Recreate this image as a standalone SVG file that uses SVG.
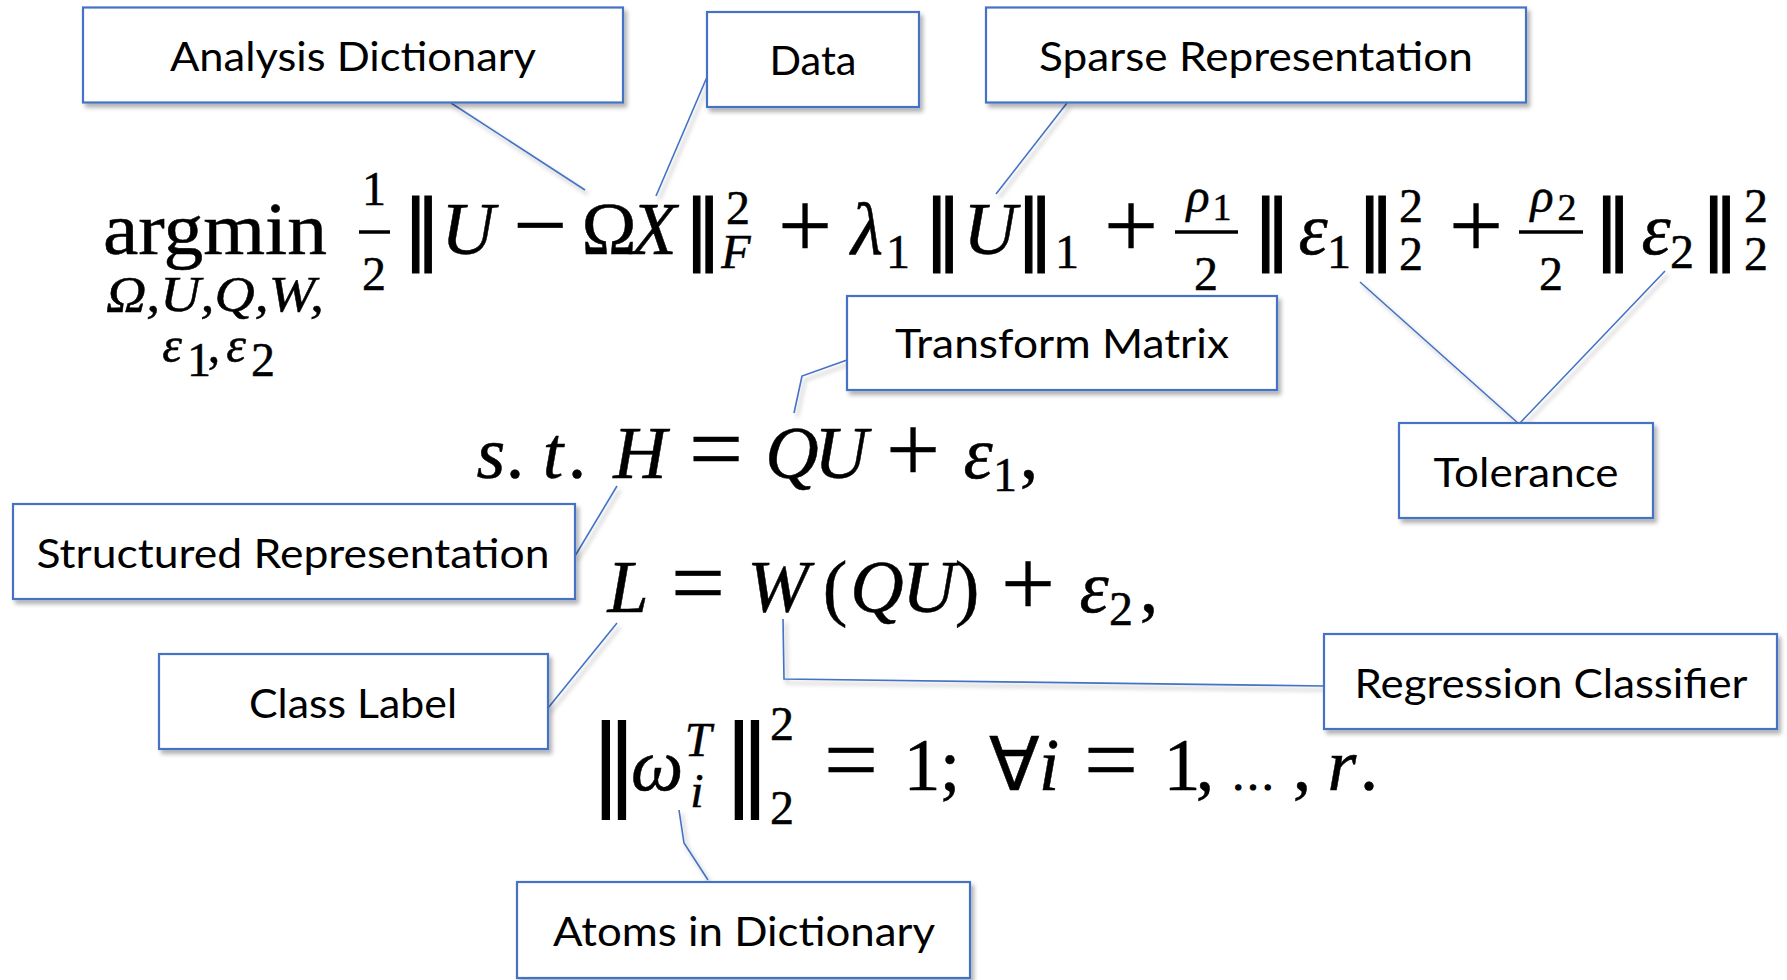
<svg xmlns="http://www.w3.org/2000/svg" width="1787" height="980" viewBox="0 0 1787 980">
<defs>
<filter id="sh" x="-10%" y="-10%" width="130%" height="140%">
<feDropShadow dx="3" dy="4" stdDeviation="2" flood-color="#000" flood-opacity="0.3"/>
</filter>
<style>
.box{fill:#fff;stroke:#4472C4;stroke-width:2.2}
.lbl{font-family:Lato,"Noto Sans",sans-serif;font-size:41px;fill:#000;text-anchor:middle}
.con{fill:none;stroke:#4472C4;stroke-width:1.6}
.m{font-family:"Liberation Serif",serif;font-size:74px;fill:#000;stroke:#000;stroke-width:0.5;text-anchor:middle}
.i{font-style:italic}
.s{font-size:48px}
.sm{font-size:50px}
.op{font-size:96px;stroke-width:0.4}
.n{font-family:"DejaVu Sans",sans-serif;font-size:77px;fill:#000;stroke:#000;stroke-width:1.2;text-anchor:middle}
.nb{font-size:100px;stroke-width:0}
.bar{stroke:#000;stroke-width:3.5}
</style>
</defs>
<rect width="1787" height="980" fill="#fff"/>

<g id="connectors" filter="url(#sh)">
<line class="con" x1="451" y1="103" x2="585" y2="190"/>
<line class="con" x1="707" y1="77" x2="656" y2="196"/>
<line class="con" x1="1067" y1="103" x2="996" y2="194"/>
<polyline class="con" points="1360,282 1519,424 1665,271"/>
<polyline class="con" points="847,360 802,376 794,413"/>
<line class="con" x1="575" y1="556" x2="617" y2="486"/>
<line class="con" x1="548" y1="708" x2="617" y2="623"/>
<polyline class="con" points="783,619 784,679 1324,686"/>
<polyline class="con" points="679,810 684,843 708,880"/>
</g>

<g id="n-analysis"><rect class="box" x="83" y="7.5" width="540" height="95" filter="url(#sh)"/><text class="lbl" x="353" y="70.5" textLength="366" lengthAdjust="spacingAndGlyphs">Analysis Dictionary</text></g>
<g id="n-data"><rect class="box" x="707" y="12" width="212" height="95" filter="url(#sh)"/><text class="lbl" x="813" y="75" textLength="87" lengthAdjust="spacingAndGlyphs">Data</text></g>
<g id="n-sparse"><rect class="box" x="986" y="7.5" width="540" height="95" filter="url(#sh)"/><text class="lbl" x="1256" y="70.5" textLength="434" lengthAdjust="spacingAndGlyphs">Sparse Representation</text></g>
<g id="n-transform"><rect class="box" x="847" y="296" width="430" height="94" filter="url(#sh)"/><text class="lbl" x="1062" y="358" textLength="334" lengthAdjust="spacingAndGlyphs">Transform Matrix</text></g>
<g id="n-tolerance"><rect class="box" x="1399" y="423" width="254" height="95" filter="url(#sh)"/><text class="lbl" x="1526" y="487" textLength="185" lengthAdjust="spacingAndGlyphs">Tolerance</text></g>
<g id="n-structured"><rect class="box" x="13" y="504" width="562" height="95" filter="url(#sh)"/><text class="lbl" x="293" y="567.5" textLength="513" lengthAdjust="spacingAndGlyphs">Structured Representation</text></g>
<g id="n-class"><rect class="box" x="159" y="654" width="389" height="95" filter="url(#sh)"/><text class="lbl" x="353" y="718" textLength="208" lengthAdjust="spacingAndGlyphs">Class Label</text></g>
<g id="n-regression"><rect class="box" x="1324" y="634" width="453" height="95" filter="url(#sh)"/><text class="lbl" x="1551" y="697.5" textLength="393" lengthAdjust="spacingAndGlyphs">Regression Classifier</text></g>
<g id="n-atoms"><rect class="box" x="517" y="882" width="453" height="96" filter="url(#sh)"/><text class="lbl" x="744" y="945.5" textLength="382" lengthAdjust="spacingAndGlyphs">Atoms in Dictionary</text></g>

<g id="equation">
<!-- line 1 -->
<text class="m" x="215" y="254" textLength="224" lengthAdjust="spacingAndGlyphs">argmin</text>
<text class="m i sm" x="215" y="311" textLength="218" lengthAdjust="spacingAndGlyphs">Ω,U,Q,W,</text>
<text class="m i sm" x="172" y="362">ε</text><text class="m s" x="199" y="376">1</text><text class="m sm" x="214" y="362">,</text>
<text class="m i sm" x="236" y="362">ε</text><text class="m s" x="263" y="376">2</text>

<text class="m s" x="374" y="205">1</text><line class="bar" x1="359" y1="232" x2="390" y2="232"/><text class="m s" x="374" y="290">2</text>
<text class="n" x="422" y="254">‖</text>
<text class="m i" x="468" y="254">U</text>
<text class="m op" x="540" y="257">−</text>
<text class="m" x="609" y="254">Ω</text>
<text class="m i" x="654" y="254">X</text>
<text class="n" x="703" y="254">‖</text>
<text class="m s" x="738" y="224">2</text><text class="m i s" x="736" y="268">F</text>
<text class="m op" x="805" y="257">+</text>
<text class="m i" x="867" y="254">λ</text><text class="m s" x="898" y="268">1</text>
<text class="n" x="943" y="254">‖</text>
<text class="m i" x="990" y="254">U</text>
<text class="n" x="1035" y="254">‖</text>
<text class="m s" x="1067" y="268">1</text>
<text class="m op" x="1131" y="257">+</text>
<text class="m i s" x="1198" y="212">ρ</text><text class="m s" x="1222" y="220" style="font-size:38px">1</text>
<line class="bar" x1="1175" y1="232" x2="1238" y2="232"/><text class="m s" x="1206" y="290">2</text>
<text class="n" x="1272" y="254">‖</text>
<text class="m i" x="1313" y="254">ε</text><text class="m s" x="1339" y="268">1</text>
<text class="n" x="1376" y="254">‖</text>
<text class="m s" x="1411" y="222">2</text><text class="m s" x="1411" y="270">2</text>
<text class="m op" x="1476" y="257">+</text>
<text class="m i s" x="1542" y="212">ρ</text><text class="m s" x="1567" y="220" style="font-size:38px">2</text>
<line class="bar" x1="1519" y1="232" x2="1583" y2="232"/><text class="m s" x="1551" y="290">2</text>
<text class="n" x="1613" y="254">‖</text>
<text class="m i" x="1656" y="254">ε</text><text class="m s" x="1682" y="268">2</text>
<text class="n" x="1720" y="254">‖</text>
<text class="m s" x="1756" y="222">2</text><text class="m s" x="1756" y="270">2</text>

<!-- line 2 -->
<text class="m i" x="491" y="477.5">s</text><text class="m" x="515" y="477.5">.</text>
<text class="m i" x="553" y="477.5">t</text><text class="m" x="577" y="477.5">.</text>
<text class="m i" x="640" y="477.5">H</text>
<text class="m op" x="716" y="481">=</text>
<text class="m i" x="792" y="477.5">Q</text><text class="m i" x="841" y="477.5">U</text>
<text class="m op" x="913" y="481">+</text>
<text class="m i" x="978" y="477.5">ε</text><text class="m s" x="1005" y="491">1</text><text class="m" x="1029" y="477.5">,</text>

<!-- line 3 -->
<text class="m i" x="628" y="611.5">L</text>
<text class="m op" x="698" y="615">=</text>
<text class="m i" x="778" y="611.5">W</text>
<text class="m" x="835" y="611.5">(</text>
<text class="m i" x="877" y="611.5">Q</text><text class="m i" x="929" y="611.5">U</text>
<text class="m" x="967" y="611.5">)</text>
<text class="m op" x="1028" y="615">+</text>
<text class="m i" x="1094" y="611.5">ε</text><text class="m s" x="1121" y="625">2</text><text class="m" x="1149" y="611.5">,</text>

<!-- line 4 -->
<text class="n nb" x="614" y="796">‖</text>
<text class="m i" x="657" y="790">ω</text>
<text class="m i s" x="698" y="756">T</text><text class="m i s" x="697" y="807">i</text>
<text class="n nb" x="747" y="796">‖</text>
<text class="m s" x="782" y="740">2</text><text class="m s" x="782" y="824">2</text>
<text class="m op" x="851" y="792">=</text>
<text class="m" x="922" y="789.5">1</text><text class="m" x="950" y="789.5">;</text>
<text class="m" x="1014" y="789.5">∀</text><text class="m i" x="1049" y="789.5">i</text>
<text class="m op" x="1111" y="792">=</text>
<text class="m" x="1182" y="789.5">1</text><text class="m" x="1205" y="789.5">,</text>
<text class="m" x="1253" y="789.5" style="font-size:44px;stroke-width:1.2">…</text>
<text class="m" x="1302" y="789.5">,</text>
<text class="m i" x="1342" y="789.5">r</text><text class="m" x="1369" y="789.5">.</text>
</g>
</svg>
